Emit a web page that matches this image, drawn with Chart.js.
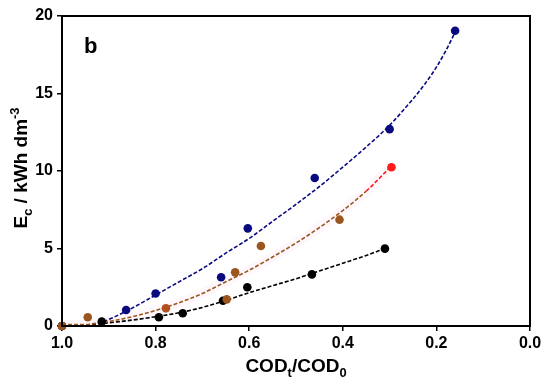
<!DOCTYPE html>
<html>
<head>
<meta charset="utf-8">
<script src="https://cdn.jsdelivr.net/npm/chart.js@4.4.1/dist/chart.umd.min.js"></script>
<style>
html, body { margin: 0; background: #fff; }
</style>
</head>
<body>
<canvas id="chart" width="550" height="384"></canvas>
<script>
// measured points (COD_t/COD_0 vs E_c)
const navyX = [1.0, 0.863, 0.80, 0.66, 0.603, 0.46, 0.30, 0.16];
const navyY = [0, 1.03, 2.1, 3.15, 6.3, 9.55, 12.7, 19.05];

const brownX = [1.0, 0.945, 0.778, 0.648, 0.63, 0.575, 0.407, 0.296];
const brownY = [0, 0.56, 1.14, 1.72, 3.46, 5.16, 6.86, 10.24];

const blackX = [1.0, 0.915, 0.793, 0.742, 0.656, 0.604, 0.466, 0.31];
const blackY = [0, 0.28, 0.56, 0.82, 1.63, 2.5, 3.33, 4.99];

// fitted curves
const navyFitX = [1.0, 0.95, 0.92, 0.86, 0.80, 0.75, 0.70, 0.65, 0.60, 0.55, 0.50, 0.45, 0.40, 0.35, 0.30, 0.25, 0.225, 0.20, 0.18, 0.16];
const navyFitY = [0.05, 0.05, 0.2, 1.0, 2.0, 2.85, 3.7, 4.7, 5.65, 6.75, 7.85, 9.0, 10.25, 11.55, 12.95, 14.65, 15.6, 16.7, 17.75, 18.95];

const brownFitX = [1.0, 0.95, 0.92, 0.88, 0.85, 0.80, 0.75, 0.70, 0.65, 0.60, 0.55, 0.50, 0.45, 0.40, 0.35, 0.30];
const brownFitY = [0.1, 0.1, 0.2, 0.4, 0.6, 1.0, 1.5, 2.1, 2.85, 3.6, 4.45, 5.35, 6.35, 7.45, 8.7, 10.2];

const blackFitX = [1.0, 0.95, 0.92, 0.85, 0.80, 0.75, 0.70, 0.65, 0.60, 0.55, 0.50, 0.45, 0.40, 0.35, 0.31];
const blackFitY = [0.05, 0.08, 0.15, 0.38, 0.6, 0.85, 1.2, 1.65, 2.15, 2.6, 3.05, 3.55, 4.05, 4.55, 5.0];

const xTicks = [1.0, 0.8, 0.6, 0.4, 0.2, 0.0];
const yTicks = [0, 5, 10, 15, 20];

const FONT = "'Liberation Sans', Arial, sans-serif";
const NAVY = '#0a0a80';
const BROWN = '#9a561e';
const RED = '#ff1a1a';

function pts(xs, ys) {
  return xs.map((x, i) => ({ x: x, y: ys[i] }));
}

function pointSet(xs, ys, color) {
  return {
    data: pts(xs, ys),
    showLine: false,
    clip: false,
    pointRadius: 4.3,
    pointBackgroundColor: color,
    pointBorderColor: color,
    pointBorderWidth: 0
  };
}

function fitSet(xs, ys, color) {
  return {
    data: pts(xs, ys),
    showLine: true,
    pointRadius: 0,
    borderColor: color,
    borderWidth: 1.6,
    borderDash: [4, 2],
    cubicInterpolationMode: 'monotone'
  };
}

const brownSet = pointSet(brownX, brownY, BROWN);
brownSet.pointBackgroundColor = ctx => ctx.dataIndex === brownX.length - 1 ? RED : (ctx.dataIndex === 2 ? '#b0501c' : BROWN);
brownSet.pointBorderColor = brownSet.pointBackgroundColor;

const brownFit = fitSet(brownFitX, brownFitY, BROWN);
brownFit.segment = {
  borderColor: ctx => ctx.p0.parsed.x < 0.36 ? RED : BROWN
};

// faint pink haze seen along the middle curve
const brownHaze = fitSet(brownFitX, brownFitY, 'rgba(250,200,240,0.13)');
brownHaze.borderDash = [];
brownHaze.borderWidth = 10;

// text with sub/superscripts
function richText(ctx, parts, size) {
  let w = 0;
  parts.forEach(p => {
    const s = p.sub || p.sup ? size * 0.68 : size;
    ctx.font = 'bold ' + s + 'px ' + FONT;
    p.size = s;
    p.w = ctx.measureText(p.t).width;
    w += p.w;
  });
  return w;
}
function drawRich(ctx, parts, size, cx, cy) {
  const w = richText(ctx, parts, size);
  let x = cx - w / 2;
  ctx.textAlign = 'left';
  ctx.textBaseline = 'alphabetic';
  ctx.fillStyle = '#000';
  parts.forEach(p => {
    ctx.font = 'bold ' + p.size + 'px ' + FONT;
    let dy = 0;
    if (p.sub) dy = size * 0.28;
    if (p.sup) dy = -size * 0.42;
    ctx.fillText(p.t, x, cy + dy);
    x += p.w;
  });
}

const decor = {
  id: 'decor',
  afterDraw(chart) {
    const ctx = chart.ctx;
    const a = chart.chartArea;
    ctx.save();
    ctx.strokeStyle = '#000';
    ctx.lineWidth = 2;
    ctx.strokeRect(a.left, a.top, a.right - a.left, a.bottom - a.top);

    ctx.fillStyle = '#000';
    ctx.font = 'bold 22px ' + FONT;
    ctx.textAlign = 'left';
    ctx.textBaseline = 'alphabetic';
    ctx.fillText('b', a.left + 22, a.top + 37);

    drawRich(ctx, [{ t: 'COD' }, { t: 't', sub: true }, { t: '/COD' }, { t: '0', sub: true }],
      19, (a.left + a.right) / 2, a.bottom + 46);

    ctx.translate(27, (a.top + a.bottom) / 2 - 3);
    ctx.rotate(-Math.PI / 2);
    drawRich(ctx, [{ t: 'E' }, { t: 'c', sub: true }, { t: ' / kWh dm' }, { t: '-3', sup: true }],
      19, 0, 0);
    ctx.restore();
  }
};

new Chart(document.getElementById('chart'), {
  type: 'scatter',
  data: {
    datasets: [
      brownSet,
      pointSet(blackX, blackY, '#000'),
      pointSet(navyX, navyY, NAVY),
      brownFit,
      fitSet(blackFitX, blackFitY, '#000'),
      fitSet(navyFitX, navyFitY, NAVY),
      brownHaze
    ]
  },
  options: {
    responsive: false,
    animation: false,
    layout: { padding: { top: 16, right: 20, left: 0, bottom: 0 } },
    plugins: { legend: { display: false }, tooltip: { enabled: false } },
    scales: {
      x: {
        type: 'linear',
        reverse: true,
        min: 0,
        max: 1,
        afterBuildTicks: s => { s.ticks = xTicks.map(v => ({ value: v })); },
        afterFit: s => { s.height = 58; },
        ticks: {
          callback: v => v.toFixed(1),
          color: '#000',
          padding: 3,
          maxRotation: 0,
          font: { family: FONT, size: 16, weight: 'bold' }
        },
        grid: { drawOnChartArea: false, drawTicks: true, tickLength: 5, color: '#000', lineWidth: 1.5 },
        border: { display: true, color: '#000', width: 2 }
      },
      y: {
        min: 0,
        max: 20,
        afterBuildTicks: s => { s.ticks = yTicks.map(v => ({ value: v })); },
        afterFit: s => { s.width = 62; },
        ticks: {
          color: '#000',
          padding: 4,
          font: { family: FONT, size: 16, weight: 'bold' }
        },
        grid: { drawOnChartArea: false, drawTicks: true, tickLength: 5, color: '#000', lineWidth: 1.5 },
        border: { display: true, color: '#000', width: 2 }
      }
    }
  },
  plugins: [decor]
});
</script>
</body>
</html>
